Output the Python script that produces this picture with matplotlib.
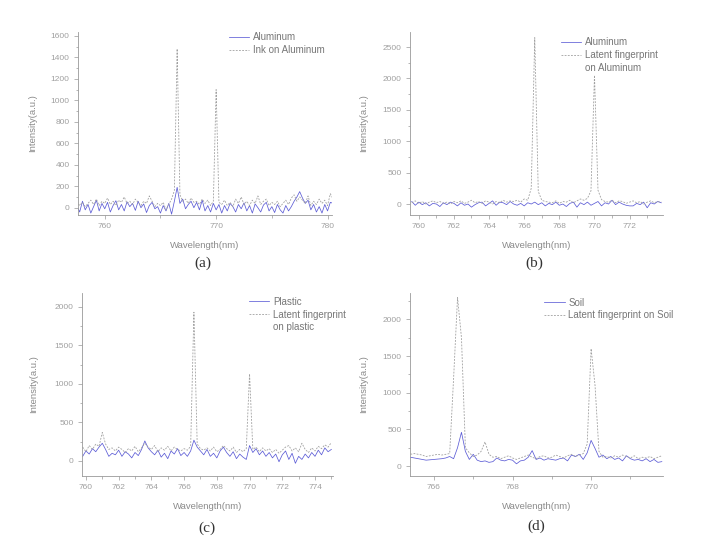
import numpy as np
import matplotlib
matplotlib.use("Agg")
import matplotlib.pyplot as plt
from matplotlib.ticker import MultipleLocator

plt.rcParams['font.family'] = ['Liberation Sans', 'DejaVu Sans']

# ---- panel (a): Aluminum / Ink on Aluminum, 757.5..780.5 nm step 0.25
a_solid = [20, -40, 60, -20, 30, -50, 10, 70, -30, 40,
           -10, 50, -40, 20, 65, -20, 30, -30, 55, 10,
           40, -25, 60, 0, 35, -45, 20, 50, -10, 10,
           -50, 20, -30, 40, -60, 60, 190, 40, 80, -10,
           30, 60, 0, 50, -20, 70, -30, 20, -40, 40,
           -20, 30, -50, 20, -30, 40, 10, -40, 30, -10,
           45, -30, 20, -50, 35, 0, -40, 25, 50, -30,
           10, -45, 30, -20, -50, 20, -30, 10, 60, 100,
           150, 90, 40, 70, -20, 30, -40, 10, -50, 30,
           -30, 50, 40]
a_dot = [60, 20, 50, 10, 40, 70, 30, 80, 20, 60,
         40, 90, 30, 60, 20, 70, 50, 100, 40, 60,
         30, 80, 50, 20, 60, 40, 110, 60, 10, 40,
         20, 50, -20, 30, 80, 160, 1480, 120, 60, 80,
         40, 90, 50, 60, 30, 80, 40, 70, 20, 60,
         1100, 50, 30, 70, 20, 50, 10, 80, 40, 100,
         30, 60, 20, 70, 40, 110, 30, 60, 80, 20,
         50, 30, 60, 10, 40, 70, 30, 90, 120, 60,
         100, 70, 40, 110, 20, 60, 30, 80, 40, 70,
         20, 130, 80]
a_x = np.linspace(757.5, 780.5, len(a_solid))

# ---- panel (b): Aluminum / Latent fingerprint, 759.6..773.8 nm step 0.2
b_solid = [40, -20, 30, -10, 20, -30, 10, 0, -40, 20,
           -10, 30, 10, -30, 20, -20, 0, -50, -10, 20,
           30, -30, 10, 50, -20, 30, 20, -10, 40, 0,
           -20, 10, -30, 20, 0, 30, -10, 20, -30, 10,
           -10, 30, -20, 0, -40, 10, 30, -50, 20, -10,
           30, -20, 10, 40, -30, 20, 0, 60, -10, 30,
           0, -20, -30, -30, 10, -10, 30, -60, 20, 0,
           40, 20]
b_dot = [20, 50, 10, 40, 0, 30, 50, 20, 40, 10,
         30, 0, 40, 20, 50, 10, 30, 60, 20, 40,
         10, 50, 30, 0, 40, 20, 60, 30, 50, 40,
         60, 30, 80, 60, 250, 2650, 200, 60, 40, 30,
         20, 50, 10, 40, 30, 60, 20, 50, 80, 60,
         90, 210, 2050, 220, 70, 40, 30, 60, 20, 50,
         40, 10, 30, 50, 20, 40, 0, 30, 50, 20,
         40, 30]
b_x = np.linspace(759.6, 773.8, len(b_solid))

# ---- panel (c): Plastic / Latent fingerprint on plastic, 759.8..775.0 nm step 0.2
c_solid = [60, 130, 90, 160, 120, 180, 230, 150, 60, 100,
           80, 140, 60, 120, 90, 40, 110, 70, 150, 260,
           170, 120, 80, 140, 50, 100, 30, 130, 90, 160,
           70, 110, 60, 130, 270, 180, 130, 80, 150, 60,
           100, 40, 130, 180, 110, 60, 120, 30, 90, 50,
           20, 200, 110, 160, 80, 130, 60, 110, 40, 90,
           -10, 80, 130, 20, 100, -30, 60, 20, 90, 40,
           110, 60, 140, 80, 170, 120, 150]
c_dot = [180, 120, 200, 150, 220, 190, 370, 220, 150, 170,
         130, 180, 150, 110, 160, 130, 190, 120, 170, 230,
         180, 150, 200, 120, 170, 140, 190, 130, 180, 150,
         130, 160, 140, 190, 1930, 220, 160, 140, 170, 130,
         180, 120, 150, 200, 160, 130, 180, 110, 150, 120,
         160, 1130, 150, 180, 120, 170, 130, 160, 110, 150,
         100, 140, 180, 200, 130, 170, 120, 230, 150, 110,
         170, 130, 190, 160, 210, 180, 240]
c_x = np.linspace(759.8, 775.0, len(c_solid))

# ---- panel (d): Soil / Latent fingerprint on Soil, 765.4..771.8 nm step 0.1
d_solid = [120, 110, 100, 90, 80, 85, 90, 95, 100, 110,
           130, 100, 250, 460, 200, 90, 160, 80, 60, 70,
           50, 60, 110, 80, 70, 90, 80, 30, 70, 80,
           120, 210, 90, 110, 80, 100, 90, 80, 100, 110,
           70, 150, 130, 160, 90, 180, 350, 240, 120, 150,
           100, 130, 90, 110, 70, 140, 100, 80, 90, 70,
           100, 60, 90, 50, 60]
d_dot = [160, 170, 160, 150, 130, 140, 150, 160, 150, 160,
         170, 1200, 2300, 1750, 250, 180, 130, 150, 200, 330,
         160, 120, 130, 100, 120, 140, 110, 90, 110, 130,
         150, 120, 100, 130, 140, 110, 120, 150, 130, 110,
         140, 160, 130, 150, 170, 300, 1600, 1100, 200, 120,
         130, 110, 140, 120, 150, 130, 110, 140, 100, 120,
         110, 130, 100, 120, 140]
d_x = np.linspace(765.4, 771.8, len(d_solid))

BLUE = '#5c5cd6'
GREY = '#a0a0a0'
TXT = '#8a8a8a'

fig = plt.figure(figsize=(7.22, 5.6), dpi=100)
W, H = 722.0, 560.0

def px_axes(l, t, r, b):
    return fig.add_axes([l / W, 1 - b / H, (r - l) / W, (b - t) / H])

panels = [
    # box, x, solid, dot, legend rows, xlim, ylim, xmaj, xmin, ymaj, ymin, legend anchor, ylabel x, letter pos
    ((78, 32, 332, 215), a_x, a_solid, a_dot, ['Aluminum', 'Ink on Aluminum'],
     (757.6, 780.4), (-68, 1637), 10, 5, 200, 100, (0.594, 1.0), -0.161, (203, 263), '(a)'),
    ((410, 32, 663, 215), b_x, b_solid, b_dot, ['Aluminum', 'Latent fingerprint', 'on Aluminum'],
     (759.5, 773.9), (-175, 2740), 2, 1, 500, 250, (0.597, 0.97), -0.166, (534, 263), '(b)'),
    ((82, 293, 333, 476), c_x, c_solid, c_dot, ['Plastic', 'Latent fingerprint', 'on plastic'],
     (759.76, 775.1), (-195, 2180), 2, 1, 500, 250, (0.665, 0.98), -0.175, (207, 528), '(c)'),
    ((410, 293, 663, 476), d_x, d_solid, d_dot, ['Soil', 'Latent fingerprint on Soil'],
     (765.39, 771.83), (-136, 2360), 2, 1, 500, 250, (0.53, 0.975), -0.166, (536, 526), '(d)'),
]

for (box, x, ys, yd, labs, xl, yl, xmaj, xmin, ymaj, ymin, anc, ylx, lpos, letter) in panels:
    ax = px_axes(*box)
    ax.plot(x, ys, color=BLUE, lw=0.55, label=labs[0])
    ax.plot(x, yd, color=GREY, lw=0.6, ls=(0, (2.2, 1.6)), label=labs[1])
    if len(labs) > 2:
        # second line of the legend text, no handle
        ax.plot([], [], color='none', label=labs[2])
    ax.set_xlim(*xl)
    ax.set_ylim(*yl)
    ax.xaxis.set_major_locator(MultipleLocator(xmaj))
    ax.xaxis.set_minor_locator(MultipleLocator(xmin))
    ax.yaxis.set_major_locator(MultipleLocator(ymaj))
    ax.yaxis.set_minor_locator(MultipleLocator(ymin))
    for s in ['top', 'right']:
        ax.spines[s].set_visible(False)
    for s in ['left', 'bottom']:
        ax.spines[s].set_color('#999999')
        ax.spines[s].set_linewidth(0.6)
    ax.tick_params(which='major', direction='out', length=3, width=0.5,
                   colors='#999999', labelsize=6, labelcolor='#a0a0a0', pad=3)
    ax.tick_params(which='minor', direction='out', length=1.8, width=0.5, colors='#999999')
    ax.set_xlabel('Wavelength(nm)', fontsize=6.8, color=TXT)
    ax.set_ylabel('Intensity(a.u.)', fontsize=6.8, color=TXT)
    ax.xaxis.set_label_coords(0.5, -0.142)
    ax.yaxis.set_label_coords(ylx, 0.5)
    leg = ax.legend(loc='upper left', bbox_to_anchor=anc, frameon=False, fontsize=7,
                    handlelength=2.1, handletextpad=0.4, labelspacing=0.3, borderpad=0,
                    borderaxespad=0)
    for t in leg.get_texts():
        t.set_color('#777777')
    fig.text(lpos[0] / W, 1 - lpos[1] / H, letter, ha='center', va='center',
             fontsize=11, family=['Liberation Serif', 'DejaVu Serif'], color='#333333')

fig.savefig('out.png', dpi=100)
